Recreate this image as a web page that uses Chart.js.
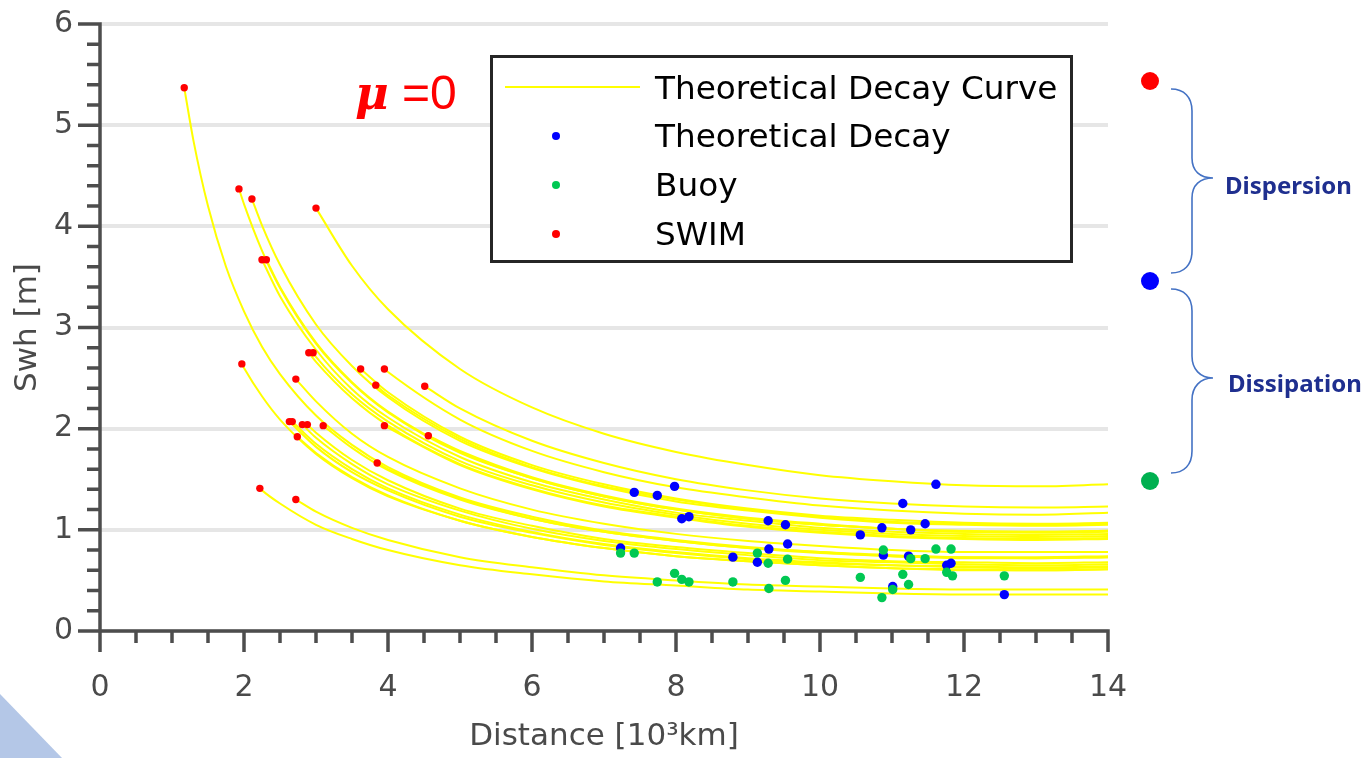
<!DOCTYPE html>
<html>
<head>
<meta charset="utf-8">
<script src="https://cdn.jsdelivr.net/npm/chart.js@4.4.1/dist/chart.umd.min.js"></script>
<style>
  html, body { margin: 0; padding: 0; background: #fff; }
  #wrap { position: relative; width: 1365px; height: 758px; overflow: hidden; background: #fff; }
  #c { position: absolute; left: 0; top: 0; }
  #deco { position: absolute; left: 0; top: 0; width: 1365px; height: 758px; pointer-events: none; }
  #legend { position: absolute; left: 490px; top: 55px; width: 577px; height: 202px;
            border: 3px solid #262626; background: #fff; }
  .lrow { position: absolute; left: 162px; height: 40px; line-height: 40px; white-space: nowrap;
          font-family: "DejaVu Sans", sans-serif; font-size: 32.7px; color: #000; }
  .lline { position: absolute; left: 12px; top: 28px; width: 135px; height: 2px; background: #FFFF00; }
  .ldot { position: absolute; left: 59px; width: 8px; height: 8px; border-radius: 50%; }
  #mu { position: absolute; left: 355px; top: 69px; height: 48px; line-height: 48px; white-space: nowrap; color: #FF0000; }
  #mu .m { font-family: "DejaVu Serif", serif; font-weight: bold; font-style: italic; font-size: 46px; }
  #mu .e { font-family: "Liberation Sans", Arial, sans-serif; font-size: 48px; }
</style>
</head>
<body>
<div id="wrap">
  <canvas id="c" width="1365" height="758"></canvas>
  <svg id="deco" width="1365" height="758" xmlns="http://www.w3.org/2000/svg">
    <polygon points="0,694 62,758 0,758" fill="#B4C7E7"/>
    <circle cx="1150" cy="81" r="9" fill="#FF0000"/>
    <circle cx="1150" cy="281" r="9" fill="#0000FF"/>
    <circle cx="1150" cy="481" r="9" fill="#00B050"/>
    <path d="M1171 89 C1184 89 1192 97 1192 111 L1192 158 C1192 171 1200 178 1213 178 C1200 178 1192 185 1192 198 L1192 251 C1192 265 1184 273 1171 273" fill="none" stroke="#4472C4" stroke-width="1.6"/>
    <path d="M1171 289 C1184 289 1192 297 1192 311 L1192 356 C1192 369 1200 378 1213 378 C1200 378 1192 387 1192 400 L1192 451 C1192 465 1184 473 1171 473" fill="none" stroke="#4472C4" stroke-width="1.6"/>
    <text x="1225" y="194" font-family="Noto Sans, sans-serif" font-weight="bold" font-size="24" fill="#1F2F8F">Dispersion</text>
    <text x="1228" y="392" font-family="Noto Sans, sans-serif" font-weight="bold" font-size="24" fill="#1F2F8F">Dissipation</text>
  </svg>
  <div id="mu"><span class="m">μ</span><span class="e"> =0</span></div>
  <div id="legend">
    <div class="lline"></div>
    <div class="lrow" style="top:10px">Theoretical Decay Curve</div>
    <div class="ldot" style="top:74px;background:#0000FF"></div>
    <div class="lrow" style="top:58px">Theoretical Decay</div>
    <div class="ldot" style="top:123px;background:#00C853"></div>
    <div class="lrow" style="top:107px">Buoy</div>
    <div class="ldot" style="top:172px;background:#FF0000"></div>
    <div class="lrow" style="top:156px">SWIM</div>
  </div>
</div>
<script>
// ---------- data ----------
const xTickLabels = ['0', '2', '4', '6', '8', '10', '12', '14'];
const yTickLabels = ['0', '1', '2', '3', '4', '5', '6'];

// SWIM observations (start points of the decay curves)
const swimX = [1.17, 1.93, 2.11, 3.00, 2.25, 2.31, 2.90, 2.96, 1.97, 2.72, 3.62, 3.95, 3.83, 4.51, 2.63, 2.67, 2.81, 2.88, 3.10, 3.95, 2.74, 4.56, 3.85, 2.22, 2.72];
const swimY = [5.37, 4.37, 4.27, 4.18, 3.67, 3.67, 2.75, 2.75, 2.64, 2.49, 2.59, 2.59, 2.43, 2.42, 2.07, 2.07, 2.04, 2.04, 2.03, 2.03, 1.92, 1.93, 1.66, 1.41, 1.30];

// Theoretical decay at buoy distances
const decayX = [7.42, 7.74, 7.98, 8.08, 8.18, 9.28, 9.52, 11.61, 11.15, 10.86, 10.56, 11.26, 11.46, 7.23, 9.29, 9.55, 8.79, 9.13, 10.88, 11.23, 11.76, 11.82, 11.01, 12.56];
const decayY = [1.37, 1.34, 1.43, 1.11, 1.13, 1.09, 1.05, 1.45, 1.26, 1.02, 0.95, 1.00, 1.06, 0.82, 0.81, 0.86, 0.73, 0.68, 0.75, 0.74, 0.65, 0.67, 0.44, 0.36];

// Buoy observations
const buoyX = [7.23, 7.42, 7.74, 7.98, 8.08, 8.18, 8.79, 9.13, 9.28, 9.29, 9.52, 9.55, 10.56, 10.86, 10.88, 11.01, 11.15, 11.23, 11.26, 11.46, 11.61, 11.76, 11.82, 11.84, 12.56];
const buoyY = [0.77, 0.77, 0.485, 0.57, 0.51, 0.485, 0.485, 0.77, 0.67, 0.42, 0.50, 0.71, 0.53, 0.33, 0.80, 0.41, 0.56, 0.46, 0.715, 0.715, 0.81, 0.58, 0.81, 0.545, 0.545];

// Decay curves: values read at these distances (null = before the curve starts)
const curveX = [1.3, 1.5, 1.75, 2, 2.25, 2.5, 3, 3.5, 4, 5, 6, 7, 8, 9, 10, 11, 12, 13, 14];
const curve01 = [4.84, 4.20, 3.60, 3.16, 2.81, 2.54, 2.13, 1.84, 1.62, 1.32, 1.13, 0.99, 0.90, 0.83, 0.78, 0.75, 0.73, 0.73, 0.74];
const curve02 = [null, null, null, 4.22, 3.76, 3.39, 2.84, 2.45, 2.16, 1.76, 1.51, 1.33, 1.20, 1.11, 1.05, 1.01, 0.98, 0.97, 0.98];
const curve03 = [null, null, null, null, 4.01, 3.62, 3.03, 2.62, 2.31, 1.88, 1.61, 1.42, 1.28, 1.19, 1.12, 1.07, 1.05, 1.04, 1.05];
const curve04 = [null, null, null, null, null, null, null, 3.61, 3.18, 2.59, 2.21, 1.95, 1.77, 1.64, 1.54, 1.48, 1.44, 1.43, 1.45];
const curve05 = [null, null, null, null, null, 3.31, 2.78, 2.39, 2.11, 1.72, 1.47, 1.30, 1.17, 1.09, 1.02, 0.98, 0.96, 0.95, 0.96];
const curve06 = [null, null, null, null, null, 3.40, 2.85, 2.46, 2.17, 1.77, 1.51, 1.33, 1.20, 1.11, 1.05, 1.01, 0.98, 0.98, 0.99];
const curve07 = [null, null, null, null, null, null, 2.66, 2.30, 2.03, 1.65, 1.41, 1.24, 1.13, 1.04, 0.98, 0.94, 0.92, 0.91, 0.92];
const curve08 = [null, null, null, null, null, null, 2.71, 2.34, 2.07, 1.68, 1.44, 1.27, 1.15, 1.06, 1.00, 0.96, 0.94, 0.93, 0.94];
const curve09 = [null, null, null, 2.60, 2.32, 2.09, 1.75, 1.51, 1.33, 1.09, 0.93, 0.82, 0.74, 0.69, 0.65, 0.62, 0.60, 0.60, 0.61];
const curve10 = [null, null, null, null, null, null, 2.27, 1.95, 1.72, 1.41, 1.20, 1.06, 0.96, 0.89, 0.84, 0.80, 0.78, 0.78, 0.78];
const curve11 = [null, null, null, null, null, null, null, null, 2.36, 1.92, 1.64, 1.45, 1.31, 1.21, 1.14, 1.10, 1.07, 1.06, 1.07];
const curve12 = [null, null, null, null, null, null, null, null, 2.56, 2.09, 1.78, 1.57, 1.42, 1.32, 1.24, 1.19, 1.16, 1.15, 1.17];
const curve13 = [null, null, null, null, null, null, null, null, 2.33, 1.90, 1.62, 1.43, 1.30, 1.20, 1.13, 1.08, 1.06, 1.05, 1.06];
const curve14 = [null, null, null, null, null, null, null, null, null, 2.20, 1.88, 1.66, 1.50, 1.39, 1.31, 1.26, 1.23, 1.22, 1.23];
const curve15 = [null, null, null, null, null, null, 1.82, 1.57, 1.39, 1.13, 0.97, 0.85, 0.77, 0.71, 0.67, 0.65, 0.63, 0.62, 0.63];
const curve16 = [null, null, null, null, null, null, 1.85, 1.60, 1.41, 1.15, 0.98, 0.86, 0.78, 0.72, 0.68, 0.65, 0.64, 0.63, 0.64];
const curve17 = [null, null, null, null, null, null, 1.91, 1.65, 1.45, 1.19, 1.01, 0.89, 0.81, 0.75, 0.70, 0.68, 0.66, 0.65, 0.66];
const curve18 = [null, null, null, null, null, null, 1.96, 1.69, 1.49, 1.21, 1.04, 0.91, 0.83, 0.77, 0.72, 0.69, 0.68, 0.67, 0.68];
const curve19 = [null, null, null, null, null, null, null, 1.81, 1.59, 1.30, 1.11, 0.98, 0.89, 0.82, 0.77, 0.74, 0.72, 0.72, 0.73];
const curve20 = [null, null, null, null, null, null, null, null, 2.01, 1.64, 1.40, 1.23, 1.12, 1.03, 0.97, 0.93, 0.91, 0.90, 0.91];
const curve21 = [null, null, null, null, null, null, 1.76, 1.52, 1.34, 1.09, 0.93, 0.82, 0.74, 0.69, 0.65, 0.62, 0.61, 0.60, 0.61];
const curve22 = [null, null, null, null, null, null, null, null, null, 1.78, 1.52, 1.34, 1.21, 1.12, 1.06, 1.01, 0.99, 0.98, 0.99];
const curve23 = [null, null, null, null, null, null, null, null, 1.60, 1.31, 1.11, 0.98, 0.89, 0.82, 0.78, 0.74, 0.73, 0.72, 0.73];
const curve24 = [null, null, null, null, 1.39, 1.26, 1.05, 0.91, 0.80, 0.65, 0.56, 0.49, 0.45, 0.41, 0.39, 0.37, 0.36, 0.36, 0.36];
const curve25 = [null, null, null, null, null, null, 1.18, 1.02, 0.90, 0.73, 0.63, 0.55, 0.50, 0.46, 0.44, 0.42, 0.41, 0.41, 0.41];
const curves = [curve01, curve02, curve03, curve04, curve05, curve06, curve07, curve08, curve09, curve10,
                curve11, curve12, curve13, curve14, curve15, curve16, curve17, curve18, curve19, curve20,
                curve21, curve22, curve23, curve24, curve25];

// ---------- build datasets ----------
const toPts = (xs, ys) => xs.map((x, i) => ({ x: x, y: ys[i] }));

const curveSets = curves.map((vals, i) => {
  const pts = [{ x: swimX[i], y: swimY[i] }];
  curveX.forEach((gx, j) => { if (vals[j] !== null && gx > swimX[i]) pts.push({ x: gx, y: vals[j] }); });
  return {
    label: 'Theoretical Decay Curve', data: pts, borderColor: '#FFFF00', borderWidth: 2,
    pointRadius: 0, cubicInterpolationMode: 'monotone', fill: false, showLine: true, order: 4
  };
});

const pointSet = (label, data, color, r, order) => ({
  label, data, showLine: false, pointRadius: r, pointHoverRadius: r, pointBorderWidth: 0,
  pointBackgroundColor: color, borderColor: color, backgroundColor: color, order
});

const datasets = curveSets.concat([
  pointSet('Theoretical Decay', toPts(decayX, decayY), '#0000FF', 4.7, 3),
  pointSet('Buoy', toPts(buoyX, buoyY), '#00C853', 4.7, 2),
  pointSet('SWIM', toPts(swimX, swimY), '#FF0000', 3.7, 1)
]);

// ---------- axes with major / minor ticks ----------
const axisPlugin = {
  id: 'matlabAxes',
  afterDraw(chart) {
    const { ctx, chartArea: a, scales } = chart;
    const xs = scales.x, ys = scales.y;
    const lw = 3.5;
    ctx.save();
    ctx.strokeStyle = '#4d4d4d';
    ctx.lineWidth = lw;
    ctx.lineCap = 'butt';
    ctx.beginPath();
    ctx.moveTo(a.left, a.bottom + lw / 2); ctx.lineTo(a.left, a.top - lw / 2);
    ctx.moveTo(a.left - lw / 2, a.bottom); ctx.lineTo(a.right + lw / 2, a.bottom);
    for (let i = 0; i <= 30; i++) {
      const py = ys.getPixelForValue(i / 5);
      const len = (i % 5 === 0) ? 22 : 13;
      ctx.moveTo(a.left - len, py); ctx.lineTo(a.left, py);
    }
    for (let i = 0; i <= 28; i++) {
      const px = xs.getPixelForValue(i / 2);
      const len = (i % 4 === 0) ? 21 : 12;
      ctx.moveTo(px, a.bottom); ctx.lineTo(px, a.bottom + len);
    }
    ctx.stroke();
    ctx.restore();
  }
};

const tickFont = { family: 'DejaVu Sans', size: 30 };
const titleFont = { family: 'DejaVu Sans', size: 31 };

new Chart(document.getElementById('c'), {
  type: 'line',
  data: { datasets },
  options: {
    responsive: false,
    animation: false,
    devicePixelRatio: 1,
    layout: { padding: { left: 0, right: 257, top: 24, bottom: 0 } },
    plugins: { legend: { display: false }, tooltip: { enabled: false } },
    elements: { line: { tension: 0 } },
    scales: {
      x: {
        type: 'linear', min: 0, max: 14,
        afterFit(s) { s.height = 127; s.paddingLeft = 0; s.paddingRight = 0; },
        ticks: {
          stepSize: 2, autoSkip: false, maxRotation: 0, padding: 39, color: '#4a4a4a', font: tickFont,
          callback: (v) => xTickLabels[Math.round(v / 2)]
        },
        grid: { display: false, drawTicks: false },
        border: { display: false },
        title: { display: true, text: 'Distance [10³km]', color: '#4a4a4a', font: titleFont, padding: { top: 0, bottom: 2 } }
      },
      y: {
        type: 'linear', min: 0, max: 6,
        afterFit(s) { s.width = 100; s.paddingTop = 0; s.paddingBottom = 0; },
        ticks: {
          stepSize: 1, padding: 27, color: '#4a4a4a', font: tickFont,
          callback: (v) => yTickLabels[Math.round(v)]
        },
        grid: { color: '#e6e6e6', lineWidth: 4, drawTicks: false },
        border: { display: false },
        title: { display: true, text: 'Swh [m]', color: '#4a4a4a', font: titleFont, padding: { top: 9, bottom: 0 } }
      }
    }
  },
  plugins: [axisPlugin]
});
</script>
</body>
</html>
